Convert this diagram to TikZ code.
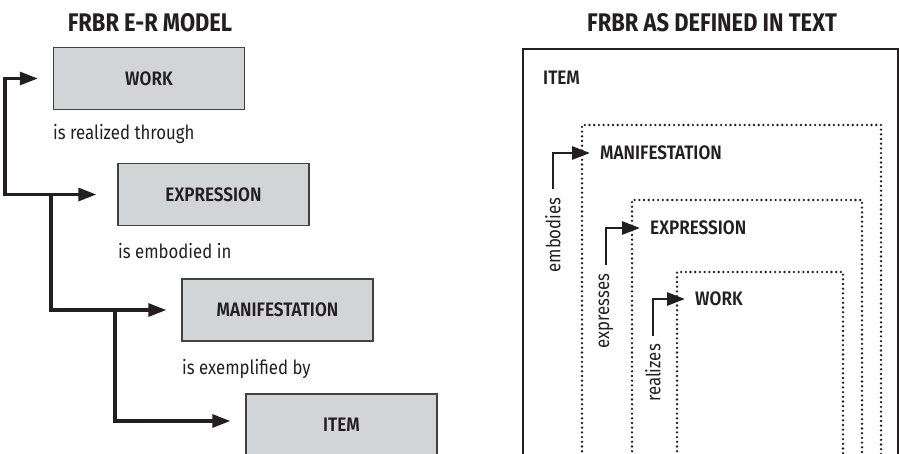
\documentclass[tikz,border=0pt]{standalone}
\usepackage{fontspec}
\setmainfont[FakeStretch=0.86]{Fira Sans}
\newfontfamily\medfont[FakeStretch=0.88]{Fira Sans SemiBold}
\usetikzlibrary{arrows.meta}
\definecolor{boxgray}{HTML}{D3D4D6}
\definecolor{ink}{HTML}{231F20}

\begin{document}
\begin{tikzpicture}[x=1pt,y=-1pt,
  every node/.style={text=ink},
  entity/.style={draw=ink!85, line width=1.4pt, fill=boxgray, minimum width=191pt, minimum height=62pt, inner sep=0pt, font=\medfont\fontsize{19.5}{22}\selectfont},
  rel/.style={anchor=base west, inner sep=0pt, font=\fontsize{19.5}{22}\selectfont},
  vrel/.style={rotate=90, inner sep=2pt, font=\fontsize{19.5}{22}\selectfont},
  layer/.style={anchor=west, inner sep=3pt, font=\medfont\fontsize{19.5}{22}\selectfont},
  heading/.style={font=\bfseries\fontsize{25.5}{30}\selectfont},
  arr/.style={draw=ink, line width=3.1pt, -{Triangle[length=18pt,width=13pt]}},
  dotbox/.style={draw=ink, line width=2.6pt, line cap=round, dash pattern=on 0pt off 4.7pt}]
\useasboundingbox (0,0) rectangle (899,453);
\clip (0,0) rectangle (899,453);

\node[heading] (titleL) at (150,23) {FRBR E-R MODEL};
\node[heading] (titleR) at (712,23) {FRBR AS DEFINED IN TEXT};

\node[entity] (work) at (149,78.5) {WORK};
\node[entity] (expr) at (213.5,194.5) {EXPRESSION};
\node[entity] (mani) at (277.5,310) {MANIFESTATION};
\node[entity] (item) at (341.5,425) {ITEM};
\node[rel] (realizedThrough) at (53,139) {is realized through};
\node[rel] (embodiedIn) at (118,258) {is embodied in};
\node[rel] (exemplifiedBy) at (182,374) {is exemplified by};

\coordinate (c1) at (5,78.5);
\coordinate (c2) at (51,194.5);
\coordinate (c3) at (115,310);
\draw[arr, {Triangle[length=18pt,width=13pt]}-{Triangle[length=18pt,width=13pt]}] ([xshift=-15pt]work.west) -- (c1) |- ([xshift=-21pt]expr.west);
\draw[arr] (c2) |- ([xshift=-15pt]mani.west);
\draw[arr] (c3) |- ([xshift=-15pt,yshift=4pt]item.west);

\draw[ink, line width=2.2pt] (523,470) |- (898,49) -- (898,470);
\draw[dotbox] (582,470) |- (881,125) -- (881,470);
\draw[dotbox] (632,470) |- (862,200) -- (862,470);
\draw[dotbox] (677,470) |- (843,272) -- (843,470);

\node[layer] (itemL) at (540,78) {ITEM};
\node[layer] (maniL) at (597,153) {MANIFESTATION};
\node[layer] (exprL) at (647,228) {EXPRESSION};
\node[layer] (workL) at (692,299) {WORK};

\node[vrel] (embodies) at (553,235) {embodies};
\node[vrel] (expresses) at (606,311) {expresses};
\node[vrel] (realizes) at (653,373) {realizes};

\draw[arr, line width=2.8pt, shorten <=6pt, shorten >=7pt] (embodies.east) |- (maniL.west);
\draw[arr, line width=2.8pt, shorten <=6pt, shorten >=7pt] (expresses.east) |- (exprL.west);
\draw[arr, line width=2.8pt, shorten <=6pt, shorten >=7pt] (realizes.east) |- (workL.west);
\end{tikzpicture}
\end{document}
